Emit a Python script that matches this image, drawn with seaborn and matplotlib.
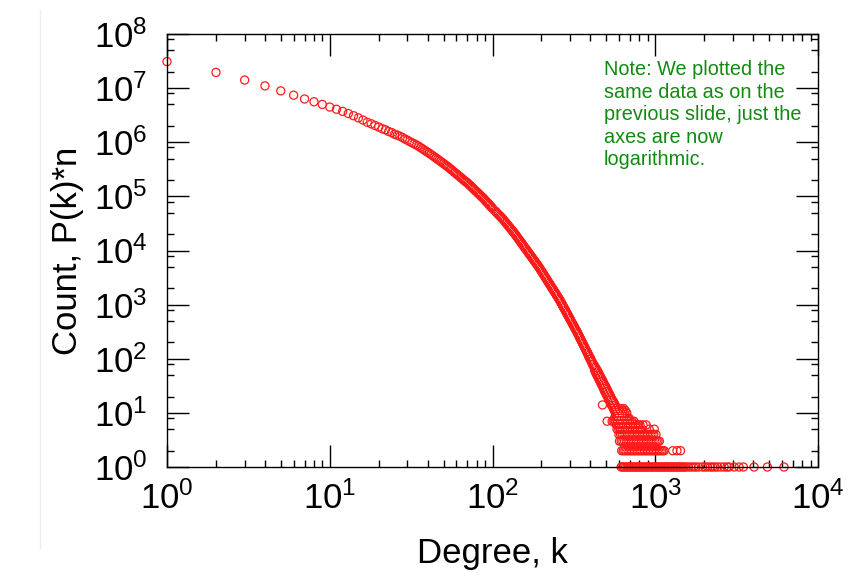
import numpy as np
import pandas as pd
import matplotlib
matplotlib.use("Agg")
import matplotlib.pyplot as plt
from matplotlib.ticker import LogLocator, FuncFormatter, NullFormatter
from matplotlib.lines import Line2D
import seaborn as sns

# ---------------- degree distribution data ----------------
# low degrees, one point per degree
deg_head = [1, 2, 3, 4, 5, 6, 7, 8, 9, 10, 11, 12, 13, 14, 15, 16, 17, 18, 19, 20,
            21, 22, 23, 24, 25, 26, 27, 28, 29, 30, 31, 32, 33, 34, 35, 36, 37, 38, 39, 40]
cnt_head = [3.09e7, 1.95e7, 1.41e7, 1.10e7, 8.9e6, 7.4e6, 6.3e6, 5.6e6, 5.0e6, 4.47e6,
            4.07e6, 3.72e6, 3.39e6, 3.09e6, 2.82e6, 2.57e6, 2.34e6, 2.19e6, 2.04e6, 1.91e6,
            1.78e6, 1.70e6, 1.58e6, 1.51e6, 1.41e6, 1.35e6, 1.29e6, 1.22e6, 1.15e6, 1.09e6,
            1.03e6, 9.82e5, 9.35e5, 8.91e5, 8.51e5, 8.05e5, 7.62e5, 7.22e5, 6.85e5, 6.52e5]

# degrees 41 .. 100
deg_mid1 = [41, 42, 43, 44, 45, 46, 47, 48, 49, 50, 51, 52, 53, 54, 55, 56, 57, 58, 59, 60,
            61, 62, 63, 64, 65, 66, 67, 68, 69, 70, 71, 72, 73, 74, 75, 76, 77, 78, 79, 80,
            81, 82, 83, 84, 85, 86, 87, 88, 89, 90, 91, 92, 93, 94, 95, 96, 97, 98, 99, 100]
cnt_mid1 = [6.21e5, 5.91e5, 5.62e5, 5.35e5, 5.09e5, 4.85e5, 4.63e5, 4.42e5, 4.23e5, 4.04e5,
            3.87e5, 3.71e5, 3.55e5, 3.40e5, 3.24e5, 3.09e5, 2.96e5, 2.83e5, 2.72e5, 2.61e5,
            2.50e5, 2.40e5, 2.31e5, 2.22e5, 2.13e5, 2.05e5, 1.97e5, 1.90e5, 1.84e5, 1.79e5,
            1.71e5, 1.64e5, 1.58e5, 1.52e5, 1.46e5, 1.41e5, 1.35e5, 1.30e5, 1.25e5, 1.21e5,
            1.17e5, 1.13e5, 1.09e5, 1.05e5, 1.015e5, 9.82e4, 9.50e4, 9.20e4, 8.86e4, 8.53e4,
            8.23e4, 7.94e4, 7.66e4, 7.40e4, 7.15e4, 6.90e4, 6.67e4, 6.44e4, 6.23e4, 6.03e4]

# degrees 103 .. 301
deg_mid2 = [103, 106, 109, 112, 115, 118, 121, 124, 127, 130,
            133, 136, 139, 142, 145, 148, 151, 154, 157, 160,
            163, 166, 169, 172, 175, 178, 181, 184, 187, 190,
            193, 196, 199, 202, 205, 208, 211, 214, 217, 220,
            223, 226, 229, 232, 235, 238, 241, 244, 247, 250,
            253, 256, 259, 262, 265, 268, 271, 274, 277, 280,
            283, 286, 289, 292, 295, 298, 301]
cnt_mid2 = [5.47e4, 4.98e4, 4.57e4, 4.22e4, 3.86e4, 3.52e4, 3.21e4, 2.94e4, 2.69e4, 2.47e4,
            2.27e4, 2.09e4, 1.91e4, 1.75e4, 1.60e4, 1.47e4, 1.36e4, 1.25e4, 1.15e4, 1.07e4,
            9870, 9140, 8490, 7910, 7360, 6850, 6400, 5970, 5580, 5220,
            4890, 4540, 4230, 3940, 3670, 3430, 3200, 2990, 2800, 2620,
            2460, 2310, 2170, 2040, 1920, 1810, 1700, 1610, 1510, 1430,
            1350, 1280, 1200, 1130, 1060, 998, 938, 881, 830, 782,
            738, 695, 656, 619, 586, 555, 524]
deg_mid2b = [105, 108, 111, 114, 117, 120, 123, 126, 129, 132,
             135, 138, 141, 144, 147, 150, 153, 156, 159, 162,
             165, 168, 171, 174, 177, 180, 183, 186, 189, 192,
             195, 198, 201, 204, 207, 210, 213, 216, 219, 222,
             225, 228, 231, 234, 237, 240, 243, 246, 249, 252,
             255, 258, 261, 264, 267, 270, 273, 276, 279, 282,
             285, 288, 291, 294, 297, 300]
cnt_mid2b = [5.22e4, 4.77e4, 4.39e4, 4.04e4, 3.69e4, 3.36e4, 3.07e4, 2.81e4, 2.58e4, 2.37e4,
             2.18e4, 2.00e4, 1.83e4, 1.67e4, 1.53e4, 1.41e4, 1.30e4, 1.20e4, 1.11e4, 1.03e4,
             9500, 8810, 8190, 7630, 7100, 6620, 6180, 5770, 5400, 5050,
             4710, 4380, 4080, 3800, 3550, 3310, 3090, 2890, 2710, 2540,
             2380, 2240, 2100, 1980, 1860, 1750, 1650, 1560, 1470, 1390,
             1310, 1240, 1160, 1090, 1030, 968, 909, 855, 806, 760,
             716, 675, 637, 602, 570, 539]

# degrees 305 .. 421
deg_mid3 = [305, 307, 309, 311, 313, 315, 317, 319, 321, 323, 325, 327, 329, 331, 333,
            335, 337, 339, 341, 343, 345, 347, 349, 351, 353, 355, 357, 359, 361, 363,
            365, 367, 369, 371, 373, 375, 377, 379, 381, 383, 385, 387, 389, 391, 393,
            395, 397, 399, 401, 403, 405, 407, 409, 411, 413, 415, 417, 419, 421]
cnt_mid3 = [488, 470, 453, 438, 423, 408, 394, 380, 367, 355, 343, 332, 321, 310, 300,
            289, 279, 269, 259, 250, 242, 233, 225, 217, 210, 203, 196, 189, 183, 177,
            172, 166, 161, 155, 150, 145, 141, 136, 132, 125, 128, 121, 113, 111, 112,
            104, 99, 103, 100, 92, 88, 86, 89, 84, 78, 75, 79, 76, 69]

# noisy region where counts become small
deg_band = [423, 425, 427, 429, 431, 433, 435, 437, 439, 441, 443, 445, 447, 449, 451,
            453, 455, 457, 459, 461, 463, 465, 467, 469, 471, 473, 474, 475, 477, 479,
            481, 483, 485, 487, 489, 491, 493, 495, 497, 499, 501, 503, 505, 506, 507,
            509, 511, 513, 515, 517, 519, 521, 523, 525, 527, 529, 531, 533, 535, 537,
            539, 541, 543, 545, 547, 549, 551, 553, 555, 557, 559, 561, 563, 565, 567,
            569, 571, 573, 575, 577, 579, 581, 583, 585, 587, 589, 591, 593, 595, 597,
            599, 601, 603, 605, 607, 609, 611, 613, 615]
cnt_band = [74, 61, 70, 57, 67, 54, 64, 51, 61, 48, 58, 46, 55, 43, 53,
            41, 50, 39, 47, 37, 45, 35, 43, 33, 41, 32, 14, 39, 30, 37,
            28, 35, 27, 33, 25, 32, 24, 31, 23, 29, 22, 28, 21, 7, 26,
            20, 25, 19, 24, 18, 23, 18, 22, 17, 21, 16, 20, 15, 19, 14,
            18, 14, 17, 14, 17, 13, 16, 12, 16, 12, 15, 11, 14, 11, 14,
            10, 13, 10, 12, 9, 12, 9, 11, 9, 11, 8, 11, 8, 10, 8,
            10, 7, 9, 7, 9, 7, 9, 6, 8]

# degrees observed exactly c times (c = 1 .. 12)
deg_c1 = [617, 630, 643, 657, 671, 685, 699, 714, 729, 744, 760, 776, 792, 809, 826,
          843, 861, 879, 897, 916, 935, 955, 975, 995, 1016, 1037, 1059, 1081, 1104,
          1127, 1151, 1175, 1200, 1225, 1251, 1277, 1304, 1331, 1359, 1388, 1417, 1447,
          1477, 1510, 1543, 1600, 1656, 1720, 1778, 1850, 1951, 2020, 2094, 2180, 2248,
          2330, 2412, 2530, 2651, 2760, 2844, 3053, 3275, 3480, 4048, 4887, 6185]
deg_c2 = [622, 636, 650, 664, 678, 692, 707, 722, 737, 752, 768, 784, 800, 817, 834,
          852, 870, 888, 907, 926, 945, 965, 985, 1006, 1027, 1048, 1070, 1093, 1116,
          1135, 1280, 1360, 1430]
deg_c3 = [603, 618, 633, 648, 663, 680, 696, 712, 730, 747, 765, 783, 802, 821, 840,
          860, 881, 902, 923, 945, 968, 991, 1014, 1038, 1060]
deg_c4 = [598, 612, 627, 642, 657, 673, 689, 705, 722, 739, 757, 775, 793, 812, 831,
          851, 871, 892, 913, 935, 957, 980, 1010]
deg_c5 = [582, 596, 610, 625, 640, 655, 671, 687, 703, 720, 737, 755, 773, 791, 810,
          830, 918, 986]
deg_c6 = [577, 591, 605, 620, 635, 650, 666, 682, 698, 715, 732, 750, 768, 786, 805,
          840, 880]
deg_c7 = [543, 556, 569, 583, 597, 611, 626, 641, 656, 672, 688, 704, 721, 740]
deg_c8 = [562, 575, 589, 603, 617, 632, 647, 662, 678, 690]
deg_c9 = [572, 586, 600, 614, 628, 643]
deg_c10 = [605, 625, 645, 668]
deg_c11 = [610, 632, 655]
deg_c12 = [618, 640]

note_text = ("Note: We plotted the\nsame data as on the\nprevious slide, just the\n"
             "axes are now\nlogarithmic.")

# ---------------- assemble ----------------
parts = [(deg_head, cnt_head), (deg_mid1, cnt_mid1), (deg_mid2, cnt_mid2),
         (deg_mid2b, cnt_mid2b), (deg_mid3, cnt_mid3), (deg_band, cnt_band)]
rows = [deg_c1, deg_c2, deg_c3, deg_c4, deg_c5, deg_c6, deg_c7, deg_c8, deg_c9,
        deg_c10, deg_c11, deg_c12]
for c, degs in enumerate(rows, start=1):
    parts.append((degs, [c] * len(degs)))
df = pd.concat([pd.DataFrame({"degree": d, "count": c}) for d, c in parts],
               ignore_index=True).sort_values("degree")

# ---------------- style ----------------
sns.set_theme(style="ticks")
plt.rcParams["font.family"] = ["Liberation Sans", "DejaVu Sans"]
plt.rcParams["mathtext.fontset"] = "custom"
plt.rcParams["mathtext.rm"] = "Liberation Sans"
plt.rcParams["mathtext.it"] = "Liberation Sans:italic"
plt.rcParams["mathtext.bf"] = "Liberation Sans:bold"

fig = plt.figure(figsize=(8.55, 5.76), dpi=100)
ax = fig.add_axes([167 / 855, 1 - 467 / 576, 651 / 855, 433 / 576])

sns.scatterplot(data=df, x="degree", y="count", ax=ax, marker="o", s=34,
                facecolor="none", edgecolor="#ff1a1a", linewidth=0.9,
                legend=False, clip_on=False, zorder=2)
sns.scatterplot(data=df, x="degree", y="count", ax=ax, marker=".", s=1,
                color="#ff6060", linewidth=0, legend=False, clip_on=False, zorder=2)

ax.set_xscale("log")
ax.set_yscale("log")
ax.set_xlim(1, 1e4)
ax.set_ylim(1, 1e8)

pow_fmt = FuncFormatter(lambda v, p: rf"$\mathrm{{10^{{{int(round(np.log10(v)))}}}}}$")
ax.xaxis.set_major_locator(LogLocator(base=10, numticks=10))
ax.xaxis.set_minor_locator(LogLocator(base=10, subs=range(2, 10), numticks=50))
ax.yaxis.set_major_locator(LogLocator(base=10, numticks=12))
ax.yaxis.set_minor_locator(LogLocator(base=10, subs=(2, 5, 8), numticks=50))
ax.xaxis.set_major_formatter(pow_fmt)
ax.yaxis.set_major_formatter(pow_fmt)
ax.xaxis.set_minor_formatter(NullFormatter())
ax.yaxis.set_minor_formatter(NullFormatter())

ax.tick_params(which="major", direction="in", length=15.5, width=1.0, color="black",
               top=True, right=True, labelsize=25, labelcolor="black")
ax.tick_params(which="minor", direction="in", length=5, width=1.0, color="black",
               top=True, right=True)
ax.tick_params(axis="x", which="major", pad=10)
ax.tick_params(axis="y", which="major", pad=14)

for sp in ax.spines.values():
    sp.set_color("black")
    sp.set_linewidth(1.0)
    sp.set_zorder(3)

ax.set_xlabel("Degree, k", fontsize=25, color="black", va="center")
ax.set_ylabel("Count, P(k)*n", fontsize=25, color="black", va="center")
ax.xaxis.set_label_coords(0.5, (467 - 553) / 433)
ax.yaxis.set_label_coords((68 - 167) / 651, 0.5)

fig.text(604 / 855, 1 - 60 / 576, note_text, ha="left", va="top", fontsize=14.3,
         color="#118a11", linespacing=1.24)

# thin slide border on the left
fig.add_artist(Line2D([40 / 855, 40 / 855], [1 - 10 / 576, 1 - 548 / 576],
                      color="#ececec", linewidth=1.0))

fig.savefig("out.png", dpi=100)
